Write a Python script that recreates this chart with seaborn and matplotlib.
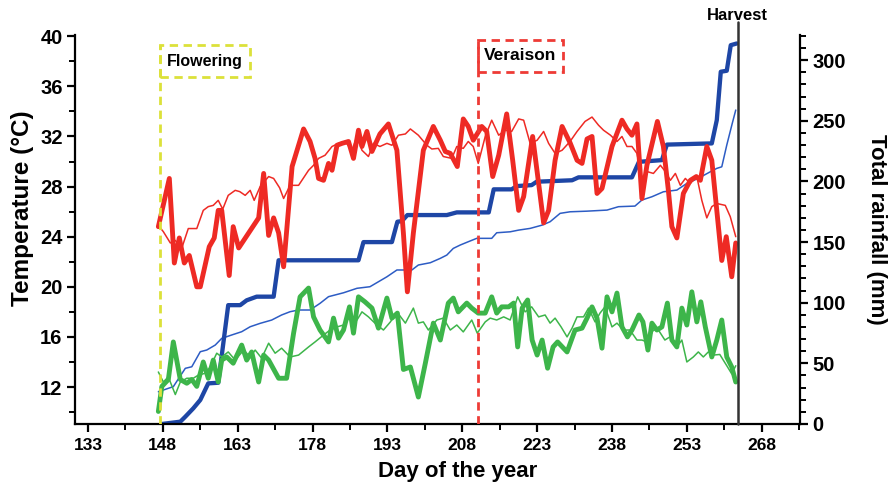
import numpy as np
import pandas as pd
import matplotlib
matplotlib.use("Agg")
import matplotlib.pyplot as plt
from matplotlib.patches import Rectangle
from matplotlib.ticker import FixedLocator, MultipleLocator
import seaborn as sns

# ---------------- data ----------------
tmax_day = [147.1, 149.3, 150.3, 151.3, 152.3, 153.3, 154.8, 155.5, 157.3, 158.3, 159.1, 159.8, 161.3, 162.1, 163.2,
            167.2, 168.2, 169.2, 170.2, 171.2, 172.2, 173.9, 176.2, 177.5, 178.5, 179.2, 180.2, 181.2, 181.9, 182.9,
            183.9, 185.2, 186.2, 187.2, 187.9, 188.9, 189.9, 191.5, 193.2, 194.9, 196.2, 197.0, 198.2, 200.2, 202.2,
            203.6, 204.6, 205.6, 207.0, 208.2, 209.2, 210.2, 211.9, 212.9, 214.1, 215.3, 216.9, 218.1, 219.3, 220.3,
            222.1, 223.3, 224.3, 225.3, 226.6, 228.0, 229.6, 231.0, 232.0, 233.0, 234.0, 235.0, 236.0, 238.0, 240.0,
            241.0, 242.0, 243.0, 244.0, 245.0, 247.1, 248.3, 249.3, 250.0, 251.0, 252.3, 253.7, 254.9, 255.7, 257.0,
            258.0, 259.0, 260.0, 260.9, 262.0, 262.8]
tmax_cur = [24.8, 28.65, 21.9, 23.9, 21.9, 22.5, 20.0, 20.0, 23.2, 23.9, 26.1, 26.1, 20.9, 24.8, 23.1,
            25.5, 29.05, 24.1, 25.5, 24.3, 21.6, 29.6, 32.6, 31.6, 30.25, 28.65, 28.5, 29.85, 29.3, 31.3,
            31.45, 31.6, 30.25, 32.5, 31.2, 32.4, 30.8, 32.2, 33.0, 30.9, 24.3, 19.6, 24.3, 30.9, 32.8,
            31.7, 30.8, 30.65, 29.6, 33.4, 32.8, 31.7, 32.8, 32.4, 28.8, 30.5, 33.8, 30.1, 26.1, 27.2,
            32.0, 28.25, 25.1, 26.1, 30.1, 32.8, 31.5, 30.1, 29.85, 31.8, 32.0, 27.45, 27.85, 31.2, 33.3,
            32.6, 32.1, 33.0, 27.05, 29.7, 33.2, 31.2, 27.7, 24.8, 23.9, 27.45, 28.5, 28.8, 28.5, 31.2,
            30.1, 26.1, 22.1, 24.0, 20.8, 23.5]

tmaxh_day = [147.1, 148.1, 149.5, 150.5, 151.8, 153.1, 154.8, 156.1, 157.1, 158.1, 159.1, 160.0, 161.1, 162.5, 163.4,
             164.5, 165.5, 166.3, 167.5, 169.2, 170.2, 171.4, 172.2, 173.5, 175.2, 177.2, 178.2, 179.2, 180.5, 181.9,
             183.2, 184.5, 185.9, 186.9, 187.9, 189.2, 190.2, 191.5, 192.9, 193.9, 195.2, 196.6, 197.6, 199.2, 200.9,
             201.9, 203.2, 204.2, 205.9, 206.9, 208.2, 209.2, 210.2, 211.2, 212.6, 213.9, 215.3, 216.6, 217.9, 219.3,
             220.3, 221.6, 223.0, 224.3, 225.3, 226.6, 228.0, 229.6, 231.0, 232.6, 234.0, 235.3, 236.3, 237.7, 239.0,
             240.0, 241.0, 242.0, 243.0, 244.0, 245.0, 246.3, 247.7, 248.7, 249.7, 250.7, 251.7, 252.7, 253.7, 255.0,
             256.0, 257.0, 258.0, 259.0, 260.7, 261.7, 262.8]
tmax_hist = [24.9, 24.4, 23.5, 23.7, 23.1, 24.65, 24.65, 26.1, 26.4, 26.5, 26.9, 26.2, 27.3, 27.7, 27.6,
             27.3, 27.7, 26.9, 28.0, 28.8, 28.65, 27.9, 27.05, 28.1, 28.1, 29.3, 29.7, 30.25, 30.5, 31.2,
             31.45, 31.6, 30.9, 32.0, 30.9, 30.4, 31.45, 31.2, 31.45, 31.3, 32.1, 32.2, 32.6, 32.1, 31.3,
             31.0, 31.05, 30.4, 30.25, 31.2, 31.05, 31.6, 31.2, 29.85, 32.0, 33.3, 32.1, 32.5, 32.4, 33.4,
             33.3, 31.45, 31.7, 32.4, 31.45, 30.65, 30.9, 31.6, 32.4, 33.2, 33.55, 32.9, 32.5, 32.1, 31.6,
             32.0, 31.2, 31.2, 30.65, 28.65, 29.2, 29.05, 29.7, 29.2, 28.5, 29.05, 28.1, 28.65, 28.25, 28.8,
             26.9, 25.5, 26.4, 26.65, 26.5, 25.6, 24.0]

tmin_day = [147.1, 147.8, 149.1, 150.1, 151.5, 152.8, 153.8, 154.8, 156.1, 157.1, 158.1, 159.1, 159.8, 160.8, 162.1,
            163.8, 164.8, 165.8, 167.2, 168.2, 169.2, 171.2, 172.8, 174.2, 175.5, 177.2, 178.2, 179.5, 181.2, 182.2,
            183.2, 184.2, 185.4, 186.2, 187.2, 188.5, 189.9, 191.2, 192.9, 193.9, 195.0, 196.2, 197.6, 199.2, 200.6,
            202.2, 203.6, 205.2, 206.2, 207.2, 208.9, 209.9, 211.2, 212.6, 213.9, 214.9, 215.9, 217.3, 218.3, 219.1,
            220.0, 221.1, 222.0, 223.0, 224.0, 225.1, 226.2, 227.1, 229.0, 230.6, 232.0, 233.0, 234.0, 235.0, 236.0,
            237.0, 238.0, 239.0, 240.0, 241.1, 242.0, 243.4, 244.2, 245.2, 246.0, 247.0, 248.0, 249.1, 250.0, 251.0,
            252.0, 253.0, 254.0, 255.0, 255.8, 256.7, 258.0, 259.0, 260.0, 261.0, 262.0, 262.8]
tmin_cur = [10.05, 12.05, 12.6, 15.6, 12.6, 12.3, 12.6, 12.05, 14.0, 12.7, 14.15, 12.4, 14.15, 14.4, 13.9,
            15.35, 14.15, 14.8, 12.4, 14.55, 14.15, 12.7, 12.7, 16.3, 19.2, 19.9, 17.6, 16.55, 15.6, 17.5,
            15.9, 16.55, 18.4, 16.3, 19.2, 18.8, 18.3, 16.7, 19.1, 17.5, 17.9, 13.4, 13.6, 11.2, 13.9,
            17.1, 15.75, 18.7, 19.1, 18.0, 18.7, 18.3, 17.9, 17.9, 19.2, 17.9, 18.4, 18.4, 18.7, 15.2,
            18.3, 18.95, 15.75, 14.55, 15.75, 13.5, 15.2, 15.6, 14.8, 16.55, 16.7, 17.5, 18.4, 17.5, 15.1,
            19.2, 18.0, 19.5, 16.8, 16.0, 16.55, 17.75, 17.2, 14.95, 17.1, 16.55, 16.8, 18.7, 15.75, 15.2,
            18.3, 16.95, 19.6, 17.2, 18.8, 16.8, 14.4, 15.75, 17.35, 14.4, 13.6, 12.4]

tminh_day = [147.1, 148.1, 149.1, 150.5, 151.5, 152.8, 154.1, 155.1, 156.5, 157.5, 158.8, 159.8, 161.1, 162.5, 164.2,
             165.5, 166.5, 167.8, 169.2, 170.5, 171.8, 173.5, 175.2, 177.2, 178.5, 180.2, 181.5, 182.9, 184.2, 185.5,
             186.9, 187.9, 189.2, 190.5, 192.2, 193.6, 194.9, 196.6, 198.2, 199.2, 200.2, 201.2, 202.9, 204.2, 205.6,
             206.9, 208.2, 209.9, 211.0, 212.6, 213.6, 214.9, 216.3, 217.6, 219.1, 220.6, 221.9, 223.3, 224.6, 225.6,
             226.6, 227.8, 229.0, 230.0, 231.0, 232.3, 233.3, 234.6, 235.6, 236.6, 238.0, 239.0, 240.3, 241.6, 243.0,
             244.0, 245.0, 246.3, 247.3, 248.6, 249.6, 251.0, 252.0, 253.0, 254.3, 255.3, 256.3, 257.3, 258.3, 259.6,
             261.0, 262.0, 262.8]
tmin_hist = [13.2, 12.4, 12.8, 11.4, 12.4, 12.7, 12.7, 12.95, 13.1, 13.6, 14.7, 14.4, 14.8, 14.15, 14.95,
             14.4, 14.95, 14.3, 15.5, 14.7, 15.1, 14.4, 14.55, 15.2, 15.6, 16.15, 16.55, 16.8, 16.95, 17.6,
             17.35, 18.0, 17.6, 17.1, 16.55, 17.2, 18.0, 17.1, 18.3, 17.1, 17.2, 16.55, 17.35, 17.5, 16.55,
             16.95, 16.4, 17.35, 16.3, 17.2, 17.5, 17.35, 17.6, 17.35, 19.2, 18.0, 18.4, 17.6, 17.75, 17.1,
             17.5, 16.8, 16.0, 16.7, 17.6, 17.6, 18.3, 17.2, 17.9, 18.4, 16.8, 17.1, 16.55, 16.55, 15.75,
             15.75, 15.6, 16.55, 16.55, 15.75, 16.0, 15.2, 15.75, 14.0, 14.4, 14.8, 14.4, 14.8, 14.55, 14.6,
             13.7, 13.05, 13.7]

rain_day = [147.8, 151.5, 152.5, 154.1, 155.5, 157.1, 159.1, 161.1, 163.5, 164.8, 166.8, 170.2, 171.2, 187.2, 188.2,
            193.9, 195.0, 195.9, 197.0, 204.9, 206.9, 213.3, 214.3, 217.9, 218.9, 221.9, 222.9, 230.0, 231.3, 242.0,
            243.4, 248.0, 249.0, 258.0, 259.0, 259.8, 261.0, 261.8, 263.0]
rain_cur = [0, 1.9, 6, 12.9, 19.8, 33.5, 34, 98, 98, 102, 105, 105, 135, 135, 150,
            150, 166.8, 167.3, 172.3, 172.3, 174.5, 174.5, 193.5, 193.5, 196.2, 197, 199.8, 201, 203.4, 203.4,
            216.2, 217.6, 230.4, 231.4, 250.6, 290.5, 291.3, 312.4, 313.8]

rainh_day = [147.1, 150.1, 152.5, 153.8, 155.5, 156.8, 158.5, 159.8, 161.8, 163.8, 165.5, 167.5, 169.8, 171.8, 173.5,
             175.2, 177.5, 179.5, 181.2, 184.2, 186.9, 189.5, 191.2, 192.9, 194.9, 197.9, 199.2, 201.6, 203.6, 204.9,
             206.2, 207.6, 209.2, 210.9, 213.9, 214.9, 217.6, 219.3, 221.6, 224.0, 225.6, 227.6, 229.6, 232.9, 237.0,
             239.3, 242.6, 244.0, 246.0, 248.3, 251.0, 253.0, 255.3, 257.7, 259.0, 260.0, 261.0, 262.1, 262.8]
rain_hist = [26.6, 30.8, 45.9, 47.2, 59.6, 61, 65.1, 70.6, 73.4, 76.1, 80.2, 83, 85.7, 89.9, 92.6,
             94, 94, 99.5, 105, 108.2, 111.9, 113.2, 117.3, 121.4, 127, 127, 131.1, 133, 136.6, 139.3,
             144.8, 147.6, 150.3, 153.1, 153.1, 157.7, 158.5, 159.9, 161.3, 164, 166.8, 173.7, 175, 175.5, 176.4,
             179.2, 179.7, 184.7, 187.4, 191.5, 192.9, 198.4, 202.6, 208, 210.8, 212.1, 230, 247.9, 258.9]

flowering_day = 147.5
veraison_day = 211.2
harvest_day = 263.2

x_ticks = [133, 148, 163, 178, 193, 208, 223, 238, 253, 268]
t_ticks = [12, 16, 20, 24, 28, 32, 36, 40]
r_ticks = [0, 50, 100, 150, 200, 250, 300]

# ---------------- style ----------------
sns.set_style("ticks")
plt.rcParams['font.family'] = ['Liberation Sans', 'DejaVu Sans']
plt.rcParams['font.weight'] = 'bold'
plt.rcParams['text.color'] = 'black'
plt.rcParams['axes.labelcolor'] = 'black'
plt.rcParams['xtick.color'] = 'black'
plt.rcParams['ytick.color'] = 'black'
plt.rcParams['xtick.labelcolor'] = 'black'
plt.rcParams['ytick.labelcolor'] = 'black'

RED = "#EE2A24"
GREEN = "#3DB54A"
BLUE = "#1E46A5"
BLUE_T = "#2D5CC4"

fig = plt.figure(figsize=(8.93, 4.86), dpi=100)
ax = fig.add_axes([0.084, 0.1276, 0.812, 0.8004])
ax2 = ax.twinx()

# rainfall on the right axis
sns.lineplot(x=rainh_day, y=rain_hist, ax=ax2, color=BLUE_T, linewidth=1.1, estimator=None, sort=False)
sns.lineplot(x=rain_day, y=rain_cur, ax=ax2, color=BLUE, linewidth=3.1, estimator=None, sort=False)

# temperatures on the left axis
sns.lineplot(x=tmaxh_day, y=tmax_hist, ax=ax, color=RED, linewidth=1.1, estimator=None, sort=False)
sns.lineplot(x=tmax_day, y=tmax_cur, ax=ax, color=RED, linewidth=3.5, estimator=None, sort=False)
sns.lineplot(x=tminh_day, y=tmin_hist, ax=ax, color=GREEN, linewidth=1.1, estimator=None, sort=False)
sns.lineplot(x=tmin_day, y=tmin_cur, ax=ax, color=GREEN, linewidth=3.5, estimator=None, sort=False)

ax.set_zorder(ax2.get_zorder() + 1)
ax.patch.set_visible(False)

ax.set_xlim(130.4, 275.7)
ax.set_ylim(9.05, 40.1)
ax2.set_ylim(0, 320.8)

# phenology markers
ax.plot([flowering_day, flowering_day], [9.05, 39.3], color="#DCE13A", lw=2.0, ls=(0, (3, 2)), zorder=5)
ax.add_patch(Rectangle((flowering_day, 36.75), 18.0, 2.55, fill=False, ec="#DCE13A", lw=2.0,
                       ls=(0, (3, 2)), zorder=5))
ax.text(flowering_day + 9.0, 38.0, "Flowering", ha="center", va="center", fontsize=11.5,
        fontweight="bold", color="black", zorder=6)

ax.plot([veraison_day, veraison_day], [9.05, 39.74], color="#EE3B36", lw=2.0, ls=(0, (3, 2)), zorder=5)
ax.add_patch(Rectangle((veraison_day, 37.15), 16.9, 2.59, fill=False, ec="#EE3B36", lw=2.0,
                       ls=(0, (3, 2)), zorder=5))
ax.text(veraison_day + 8.45, 38.45, "Veraison", ha="center", va="center", fontsize=12.5,
        fontweight="bold", color="black", zorder=6)

ax.plot([harvest_day, harvest_day], [9.05, 41.15], color="#333333", lw=1.8, zorder=5, clip_on=False)
ax.text(harvest_day, 41.65, "Harvest", ha="center", va="center", fontsize=12, fontweight="bold", color="black")

# axes formatting
ax.xaxis.set_major_locator(FixedLocator(x_ticks))
ax.xaxis.set_minor_locator(FixedLocator(list(np.arange(140.5, 276, 15))))
ax.yaxis.set_major_locator(FixedLocator(t_ticks))
ax.yaxis.set_minor_locator(MultipleLocator(2))
ax2.yaxis.set_major_locator(FixedLocator(r_ticks))
ax2.yaxis.set_minor_locator(MultipleLocator(10))

for a in (ax, ax2):
    a.tick_params(which="major", length=6, width=1.6, direction="out", color="black", labelcolor="black")
    a.tick_params(which="minor", length=4, width=1.4, direction="out", color="black")
    for s in a.spines.values():
        s.set_linewidth(1.6)
        s.set_color("black")
    a.spines["top"].set_visible(False)
ax.spines["right"].set_visible(False)
ax2.spines["left"].set_visible(False)
ax2.spines["bottom"].set_visible(False)

ax.tick_params(axis="x", labelsize=12.5, pad=4)
ax.tick_params(axis="y", labelsize=14.5, pad=3)
ax2.tick_params(axis="y", labelsize=14.5, pad=3)
for lab in ax.get_xticklabels() + ax.get_yticklabels() + ax2.get_yticklabels():
    lab.set_fontweight("bold")

ax.set_xlabel("Day of the year", fontsize=16, fontweight="bold", labelpad=6, color="black")
ax.xaxis.set_label_coords(0.528, -0.095)
ax.set_ylabel("Temperature (°C)", fontsize=17.5, fontweight="bold", ha="center", va="center", color="black")
ax.yaxis.set_label_coords(-0.072, 0.555)
ax2.set_ylabel("Total rainfall (mm)", fontsize=16, fontweight="bold", rotation=270, ha="center",
               va="center", color="black")
ax2.yaxis.set_label_coords(1.106, 0.5)

fig.savefig("out.png", dpi=100)
